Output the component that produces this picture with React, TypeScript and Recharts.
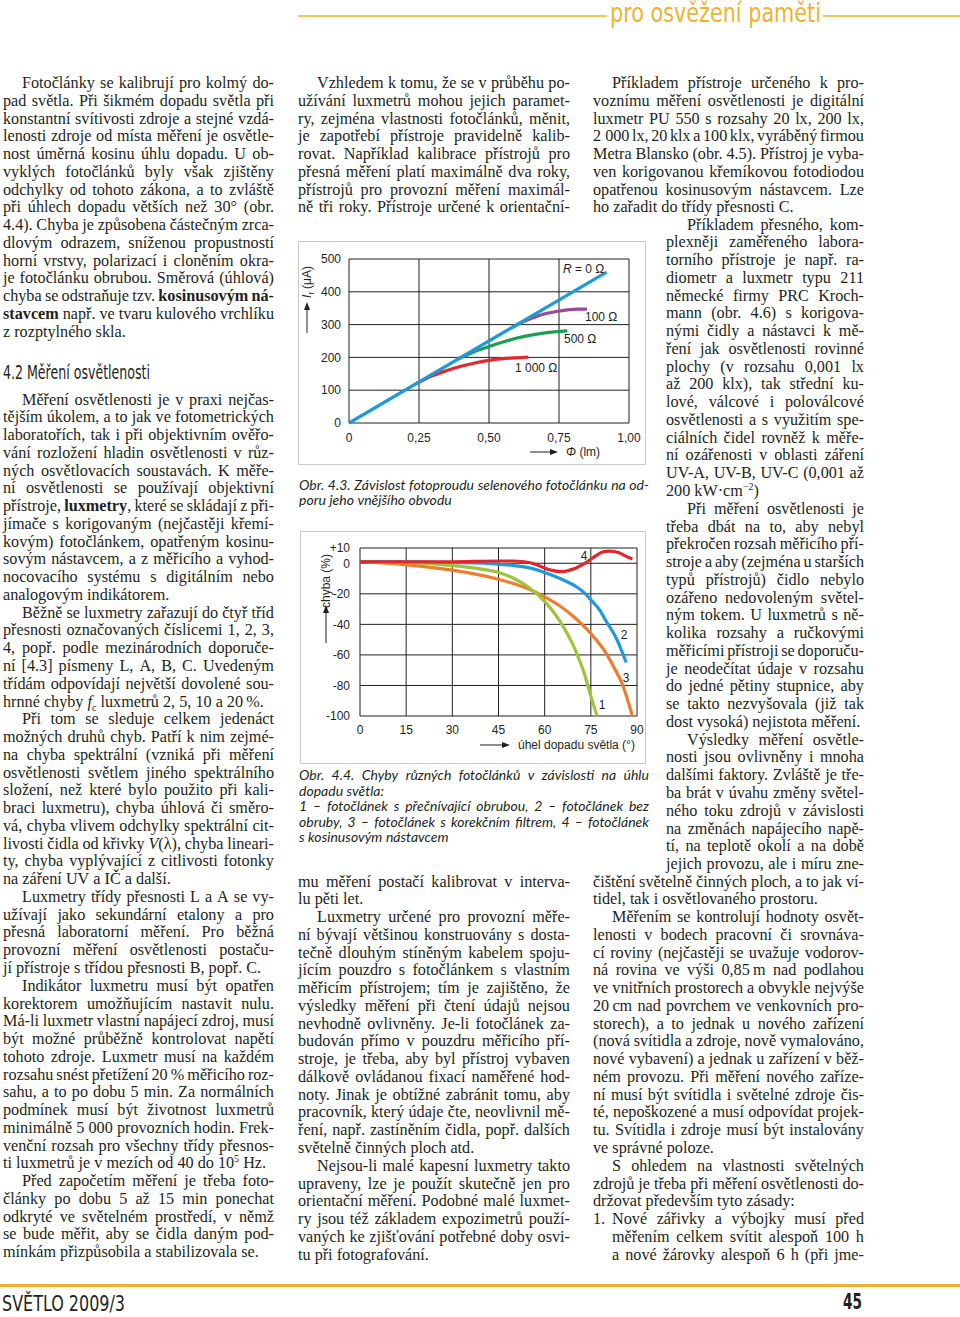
import React from "react";
import { LineChart, Line, XAxis, YAxis, CartesianGrid } from "recharts";

const INK = "#231f20";
const GOLD = "#efb22e";
const SERIF = '"Liberation Serif", "Times New Roman", serif';
const SANS = '"Liberation Sans", Arial, sans-serif';
const NARROW = '"Liberation Sans Narrow", "DejaVu Sans Condensed", "Liberation Sans", sans-serif';
const CAPTION = 'Lato, "Open Sans", sans-serif';
const LH = 17.78;

// Obr. 4.3 – fotoproud selenového fotočlánku
const FLUX_TICKS = [0, 0.25, 0.5, 0.75, 1];
const CURRENT_TICKS = [0, 100, 200, 300, 400, 500];
const R0_FLUX = [0, 0.92];
const R0_CURRENT = [0, 460];
const R100_FLUX = [0.58, 0.62, 0.66, 0.7, 0.74, 0.78, 0.82, 0.85];
const R100_CURRENT = [290, 308, 322, 333, 340, 345, 347, 347];
const R500_FLUX = [0.39, 0.45, 0.5, 0.55, 0.6, 0.65, 0.7, 0.78];
const R500_CURRENT = [195, 218, 233, 247, 259, 268, 275, 281];
const R1000_FLUX = [0.24, 0.3, 0.35, 0.4, 0.45, 0.5, 0.55, 0.6, 0.64];
const R1000_CURRENT = [120, 145, 160, 173, 183, 191, 196, 199, 201];

// Obr. 4.4 – chyby fotočlánků podle úhlu dopadu
const ANGLE_TICKS = [0, 15, 30, 45, 60, 75, 90];
const ERROR_TICKS = [-100, -80, -60, -40, -20, 0, 10];
const CELL1_ANGLE = [0, 15, 30, 40, 45, 50, 55, 60, 65, 70, 73, 75, 77];
const CELL1_ERROR = [1, 0.5, -1.5, -4, -6, -10, -16, -25, -38, -57, -73, -87, -100];
const CELL2_ANGLE = [0, 15, 30, 45, 50, 55, 60, 65, 70, 73, 75, 78, 80, 83, 86.5];
const CELL2_ERROR = [1, 1, 0.5, -0.5, -1.5, -3, -6, -10, -15, -19.5, -24, -31, -38, -48, -65];
const CELL3_ANGLE = [0, 15, 30, 45, 55, 60, 65, 70, 75, 80, 83, 85, 88.5];
const CELL3_ERROR = [1, -1, -4.5, -10.5, -17, -22, -28, -36, -46, -59, -70, -78, -100];
const CELL4_ANGLE = [0, 15, 30, 45, 50, 55, 58, 62, 65.5, 69, 73, 76, 79, 81, 84, 86, 88.5];
const CELL4_ERROR = [1, 1, 1, 1.5, 1.5, 0.5, -1.5, -4.5, -5.5, -4, 0, 4, 7.5, 8, 7, 5, 2.8];

const pts = (xs: number[], ys: number[]) => xs.map((x, i) => ({ x, y: ys[i] }));

// body text: ">" = first line of paragraph, "|" = last line
const COL1_TOP = [
  ">Fotočlánky se kalibrují pro kolmý do-",
  "pad světla. Při šikmém dopadu světla při",
  "konstantní svítivosti zdroje a stejné vzdá-",
  "lenosti zdroje od místa měření je osvětle-",
  "nost úměrná kosinu úhlu dopadu. U ob-",
  "vyklých fotočlánků byly však zjištěny",
  "odchylky od tohoto zákona, a to zvláště",
  "při úhlech dopadu větších než 30° (obr.",
  "4.4). Chyba je způsobena částečným zrca-",
  "dlovým odrazem, sníženou propustností",
  "horní vrstvy, polarizací i cloněním okra-",
  "je fotočlánku obrubou. Směrová (úhlová)",
  "chyba se odstraňuje tzv. *kosinusovým* *ná-*",
  "*stavcem* např. ve tvaru kulového vrchlíku",
  "z rozptylného skla.|",
];

const COL1_BOTTOM = [
  ">Měření osvětlenosti je v praxi nejčas-",
  "tějším úkolem, a to jak ve fotometrických",
  "laboratořích, tak i při objektivním ověřo-",
  "vání rozložení hladin osvětlenosti v růz-",
  "ných osvětlovacích soustavách. K měře-",
  "ní osvětlenosti se používají objektivní",
  "přístroje, *luxmetry*, které se skládají z při-",
  "jímače s korigovaným (nejčastěji křemí-",
  "kovým) fotočlánkem, opatřeným kosinu-",
  "sovým nástavcem, a z měřicího a vyhod-",
  "nocovacího systému s digitálním nebo",
  "analogovým indikátorem.|",
  ">Běžně se luxmetry zařazují do čtyř tříd",
  "přesnosti označovaných číslicemi 1, 2, 3,",
  "4, popř. podle mezinárodních doporuče-",
  "ní [4.3] písmeny L, A, B, C. Uvedeným",
  "třídám odpovídají největší dovolené sou-",
  "hrnné chyby _f_~c~ luxmetrů 2, 5, 10 a 20\u2009%.|",
  ">Při tom se sleduje celkem jedenáct",
  "možných druhů chyb. Patří k nim zejmé-",
  "na chyba spektrální (vzniká při měření",
  "osvětlenosti světlem jiného spektrálního",
  "složení, než které bylo použito při kali-",
  "braci luxmetru), chyba úhlová či směro-",
  "vá, chyba vlivem odchylky spektrální cit-",
  "livosti čidla od křivky _V_(λ), chyba lineari-",
  "ty, chyba vyplývající z citlivosti fotonky",
  "na záření UV a IČ a další.|",
  ">Luxmetry třídy přesnosti L a A se vy-",
  "užívají jako sekundární etalony a pro",
  "přesná laboratorní měření. Pro běžná",
  "provozní měření osvětlenosti postaču-",
  "jí přístroje s třídou přesnosti B, popř. C.|",
  ">Indikátor luxmetru musí být opatřen",
  "korektorem umožňujícím nastavit nulu.",
  "Má-li luxmetr vlastní napájecí zdroj, musí",
  "být možné průběžně kontrolovat napětí",
  "tohoto zdroje. Luxmetr musí na každém",
  "rozsahu snést přetížení 20\u2009% měřicího roz-",
  "sahu, a to po dobu 5 min. Za normálních",
  "podmínek musí být životnost luxmetrů",
  "minimálně 5\u00a0000 provozních hodin. Frek-",
  "venční rozsah pro všechny třídy přesnos-",
  "ti luxmetrů je v mezích od 40 do 10^5^ Hz.|",
  ">Před započetím měření je třeba foto-",
  "články po dobu 5 až 15 min ponechat",
  "odkryté ve světelném prostředí, v němž",
  "se bude měřit, aby se čidla daným pod-",
  "mínkám přizpůsobila a stabilizovala se.|",
];

const COL2_TOP = [
  ">Vzhledem k tomu, že se v průběhu po-",
  "užívání luxmetrů mohou jejich paramet-",
  "ry, zejména vlastnosti fotočlánků, měnit,",
  "je zapotřebí přístroje pravidelně kalib-",
  "rovat. Například kalibrace přístrojů pro",
  "přesná měření platí maximálně dva roky,",
  "přístrojů pro provozní měření maximál-",
  "ně tři roky. Přístroje určené k orientační-",
];

const COL2_BOTTOM = [
  "mu měření postačí kalibrovat v interva-",
  "lu pěti let.|",
  ">Luxmetry určené pro provozní měře-",
  "ní bývají většinou konstruovány s dosta-",
  "tečně dlouhým stíněným kabelem spoju-",
  "jícím pouzdro s fotočlánkem s vlastním",
  "měřicím přístrojem; tím je zajištěno, že",
  "výsledky měření při čtení údajů nejsou",
  "nevhodně ovlivněny. Je-li fotočlánek za-",
  "budován přímo v pouzdru měřicího pří-",
  "stroje, je třeba, aby byl přístroj vybaven",
  "dálkově ovládanou fixací naměřené hod-",
  "noty. Jinak je obtížné zabránit tomu, aby",
  "pracovník, který údaje čte, neovlivnil mě-",
  "ření, např. zastíněním čidla, popř. dalších",
  "světelně činných ploch atd.|",
  ">Nejsou-li malé kapesní luxmetry takto",
  "upraveny, lze je použít skutečně jen pro",
  "orientační měření. Podobné malé luxmet-",
  "ry jsou též základem expozimetrů použí-",
  "vaných ke zjišťování potřebné doby osvi-",
  "tu při fotografování.|",
];

const COL3_TOP = [
  ">Příkladem přístroje určeného k pro-",
  "voznímu měření osvětlenosti je digitální",
  "luxmetr PU 550 s rozsahy 20 lx, 200 lx,",
  "2\u00a0000 lx, 20 klx a 100 klx, vyráběný firmou",
  "Metra Blansko (obr. 4.5). Přístroj je vyba-",
  "ven korigovanou křemíkovou fotodiodou",
  "opatřenou kosinusovým nástavcem. Lze",
  "ho zařadit do třídy přesnosti C.|",
];

const COL3_NARROW = [
  ">Příkladem přesného, kom-",
  "plexněji zaměřeného labora-",
  "torního přístroje je např. ra-",
  "diometr a luxmetr typu 211",
  "německé firmy PRC Kroch-",
  "mann (obr. 4.6) s korigova-",
  "nými čidly a nástavci k mě-",
  "ření jak osvětlenosti rovinné",
  "plochy (v rozsahu 0,001 lx",
  "až 200 klx), tak střední ku-",
  "lové, válcové i poloválcové",
  "osvětlenosti a s využitím spe-",
  "ciálních čidel rovněž k měře-",
  "ní ozářenosti v oblasti záření",
  "UV-A, UV-B, UV-C (0,001 až",
  "200 kW·cm^−2^)|",
  ">Při měření osvětlenosti je",
  "třeba dbát na to, aby nebyl",
  "překročen rozsah měřicího pří-",
  "stroje a aby (zejména u starších",
  "typů přístrojů) čidlo nebylo",
  "ozářeno nedovoleným světel-",
  "ným tokem. U luxmetrů s ně-",
  "kolika rozsahy a ručkovými",
  "měřicími přístroji se doporuču-",
  "je neodečítat údaje v rozsahu",
  "do jedné pětiny stupnice, aby",
  "se takto nezvyšovala (již tak",
  "dost vysoká) nejistota měření.|",
  ">Výsledky měření osvětle-",
  "nosti jsou ovlivněny i mnoha",
  "dalšími faktory. Zvláště je tře-",
  "ba brát v úvahu změny světel-",
  "ného toku zdrojů v závislosti",
  "na změnách napájecího napě-",
  "tí, na teplotě okolí a na době",
  "jejich provozu, ale i míru zne-",
];

const COL3_BOTTOM = [
  "čištění světelně činných ploch, a to jak ví-",
  "tidel, tak i osvětlovaného prostoru.|",
  ">Měřením se kontrolují hodnoty osvět-",
  "lenosti v bodech pracovní či srovnáva-",
  "cí roviny (nejčastěji se uvažuje vodorov-",
  "ná rovina ve výši 0,85\u2009m nad podlahou",
  "ve vnitřních prostorech a obvykle nejvýše",
  "20\u2009cm nad povrchem ve venkovních pro-",
  "storech), a to jednak u nového zařízení",
  "(nová svítidla a zdroje, nově vymalováno,",
  "nové vybavení) a jednak u zařízení v běž-",
  "ném provozu. Při měření nového zaříze-",
  "ní musí být svítidla i světelné zdroje čis-",
  "té, nepoškozené a musí odpovídat projek-",
  "tu. Svítidla i zdroje musí být instalovány",
  "ve správné poloze.|",
  ">S ohledem na vlastnosti světelných",
  "zdrojů je třeba při měření osvětlenosti do-",
  "držovat především tyto zásady:|",
];

const COL3_LIST = [
  "Nové zářivky a výbojky musí před",
  "měřením celkem svítit alespoň 100 h",
  "a nové žárovky alespoň 6 h (při jme-",
];

const CAPTION_43 = [
  "Obr. 4.3. Závislost fotoproudu selenového fotočlánku na od-",
  "poru jeho vnějšího obvodu|",
];

const CAPTION_44 = [
  "Obr. 4.4. Chyby různých fotočlánků v závislosti na úhlu",
  "dopadu světla:|",
  "1 – fotočlánek s přečnívající obrubou, 2 – fotočlánek bez",
  "obruby, 3 – fotočlánek s korekčním filtrem, 4 – fotočlánek",
  "s kosinusovým nástavcem|",
];

function inline(t: string) {
  const parts = t.split(/(\*[^*]+\*|_[^_]+_|\^[^^]+\^|~[^~]+~)/).filter(Boolean);
  return parts.map((p, k) => {
    const inner = p.slice(1, -1);
    if (p.length > 2 && p[0] === "*" && p.endsWith("*")) return <b key={k}>{inner}</b>;
    if (p.length > 2 && p[0] === "_" && p.endsWith("_")) return <i key={k}>{inner}</i>;
    if (p.length > 2 && p[0] === "^" && p.endsWith("^"))
      return <sup key={k} style={{ fontSize: "0.62em", lineHeight: 0 }}>{inner}</sup>;
    if (p.length > 2 && p[0] === "~" && p.endsWith("~"))
      return <sub key={k} style={{ fontSize: "0.62em", lineHeight: 0 }}>{inner}</sub>;
    return <React.Fragment key={k}>{p}</React.Fragment>;
  });
}

function TextBlock({ x, y, w, lines, lh = LH, indent = 19, font = SERIF, size = 16.2, italic = false }: any) {
  return (
    <div style={{ position: "absolute", left: x, top: y, width: w, fontFamily: font, fontSize: size, lineHeight: `${lh}px`, color: INK, fontStyle: italic ? "italic" : "normal" }}>
      {lines.map((raw: string, i: number) => {
        let s = raw;
        const first = s.startsWith(">");
        if (first) s = s.slice(1);
        const last = s.endsWith("|");
        if (last) s = s.slice(0, -1);
        const words = s.split(" ");
        return (
          <div
            key={i}
            style={{
              height: lh,
              display: "flex",
              alignItems: "baseline",
              justifyContent: last ? "flex-start" : "space-between",
              columnGap: last ? "0.25em" : 0,
              paddingLeft: first ? indent : 0,
              whiteSpace: "nowrap",
            }}
          >
            {words.map((wd, j) => (
              <span key={j}>{inline(wd)}</span>
            ))}
          </div>
        );
      })}
    </div>
  );
}

const fmtFlux = (v: number) => (v === 0 ? "0" : v.toFixed(2).replace(".", ","));
const fmtError = (v: number) => (v > 0 ? `+${v}` : `${v}`);
const tickStyle = { fill: INK, fontSize: 12, fontFamily: SANS };

function Arrow({ x1, y1, x2, y2 }: any) {
  const a = Math.atan2(y2 - y1, x2 - x1);
  const hl = 8;
  const hw = 3;
  const bx = x2 - hl * Math.cos(a);
  const by = y2 - hl * Math.sin(a);
  const px = -Math.sin(a) * hw;
  const py = Math.cos(a) * hw;
  return (
    <g>
      <line x1={x1} y1={y1} x2={bx} y2={by} stroke={INK} strokeWidth={1} />
      <polygon points={`${x2},${y2} ${bx + px},${by + py} ${bx - px},${by - py}`} fill={INK} />
    </g>
  );
}

function PhotocurrentChart() {
  return (
    <div style={{ position: "absolute", left: 298, top: 241 }}>
      <LineChart width={348} height={224} margin={{ top: 18, right: 17, left: 0, bottom: 0 }}>
        <CartesianGrid stroke={INK} strokeWidth={1} />
        <XAxis
          type="number"
          dataKey="x"
          domain={[0, 1]}
          ticks={FLUX_TICKS}
          tickFormatter={fmtFlux}
          axisLine={false}
          tickLine={false}
          tickSize={0}
          tickMargin={10}
          height={42}
          tick={tickStyle}
          interval={0}
        />
        <YAxis
          type="number"
          dataKey="y"
          domain={[0, 500]}
          ticks={CURRENT_TICKS}
          axisLine={false}
          tickLine={false}
          tickSize={0}
          tickMargin={8}
          width={51}
          tick={tickStyle}
          interval={0}
        />
        <Line data={pts(R1000_FLUX, R1000_CURRENT)} dataKey="y" type="monotone" stroke="#e5262a" strokeWidth={3.2} dot={false} isAnimationActive={false} />
        <Line data={pts(R500_FLUX, R500_CURRENT)} dataKey="y" type="monotone" stroke="#1aa050" strokeWidth={3.2} dot={false} isAnimationActive={false} />
        <Line data={pts(R100_FLUX, R100_CURRENT)} dataKey="y" type="monotone" stroke="#9b4a97" strokeWidth={3.2} dot={false} isAnimationActive={false} />
        <Line data={pts(R0_FLUX, R0_CURRENT)} dataKey="y" type="linear" stroke="#1e9ad6" strokeWidth={3.2} dot={false} isAnimationActive={false} />
      </LineChart>
    </div>
  );
}

function AngleErrorChart() {
  return (
    <div style={{ position: "absolute", left: 300, top: 531 }}>
      <LineChart width={346} height={233} margin={{ top: 17, right: 9, left: 0, bottom: 0 }}>
        <CartesianGrid stroke={INK} strokeWidth={1} />
        <XAxis
          type="number"
          dataKey="x"
          domain={[0, 90]}
          ticks={ANGLE_TICKS}
          axisLine={false}
          tickLine={false}
          tickSize={0}
          tickMargin={9}
          height={48}
          tick={tickStyle}
          interval={0}
        />
        <YAxis
          type="number"
          dataKey="y"
          domain={[-100, 10]}
          ticks={ERROR_TICKS}
          tickFormatter={fmtError}
          axisLine={false}
          tickLine={false}
          tickSize={0}
          tickMargin={10}
          width={60}
          tick={tickStyle}
          interval={0}
        />
        <Line data={pts(CELL3_ANGLE, CELL3_ERROR)} dataKey="y" type="monotone" stroke="#ef7d2c" strokeWidth={3.2} dot={false} isAnimationActive={false} />
        <Line data={pts(CELL1_ANGLE, CELL1_ERROR)} dataKey="y" type="monotone" stroke="#9cc43c" strokeWidth={3.2} dot={false} isAnimationActive={false} />
        <Line data={pts(CELL2_ANGLE, CELL2_ERROR)} dataKey="y" type="monotone" stroke="#1e9ad6" strokeWidth={3.2} dot={false} isAnimationActive={false} />
        <Line data={pts(CELL4_ANGLE, CELL4_ERROR)} dataKey="y" type="monotone" stroke="#e2262b" strokeWidth={3.2} dot={false} isAnimationActive={false} />
      </LineChart>
    </div>
  );
}

const frame = (left: number, top: number, width: number, height: number) => (
  <div style={{ position: "absolute", left, top, width, height, border: "1px solid #c9c9c9", boxSizing: "border-box" }} />
);

export default function App() {
  const lbl = { fontFamily: SANS, fontSize: 12, fill: INK };
  return (
    <div style={{ position: "absolute", left: 0, top: 0, width: 960, height: 1317, background: "#fff", overflow: "hidden" }}>
      <TextBlock x={3} y={75} w={271} lines={COL1_TOP} />
      <TextBlock x={3} y={391.5} w={271} lines={COL1_BOTTOM} />
      <TextBlock x={298} y={75} w={272} lines={COL2_TOP} />
      <TextBlock x={298} y={873.5} w={272} lines={COL2_BOTTOM} />
      <TextBlock x={593} y={75} w={271} lines={COL3_TOP} />
      <TextBlock x={666} y={216.5} w={198} lines={COL3_NARROW} indent={21} />
      <TextBlock x={593} y={873.5} w={271} lines={COL3_BOTTOM} />
      <TextBlock x={612} y={873.5 + 19 * LH} w={252} lines={COL3_LIST} />
      <div style={{ position: "absolute", left: 593, top: 873.5 + 19 * LH, fontFamily: SERIF, fontSize: 16.2, lineHeight: `${LH}px`, color: INK }}>1.</div>

      <TextBlock x={299} y={477} w={350} lines={CAPTION_43} lh={15.4} font={CAPTION} size={14} italic />
      <TextBlock x={299} y={767} w={350} lines={CAPTION_44} lh={15.5} font={CAPTION} size={14} italic />

      {frame(298, 241, 348, 224)}
      {frame(300, 531, 346, 233)}
      <PhotocurrentChart />
      <AngleErrorChart />

      <svg width={960} height={1317} style={{ position: "absolute", left: 0, top: 0, pointerEvents: "none" }}>
        {/* header */}
        <line x1={298} y1={16} x2={607} y2={16} stroke={GOLD} strokeWidth={1.5} />
        <line x1={823} y1={16} x2={960} y2={16} stroke={GOLD} strokeWidth={1.5} />
        <text x={610} y={22} fontFamily={NARROW} fontSize={27} fill={GOLD} textLength={211} lengthAdjust="spacingAndGlyphs">pro osvěžení paměti</text>

        {/* section heading */}
        <text x={3} y={379} fontFamily={NARROW} fontSize={19} fill={INK} textLength={147} lengthAdjust="spacingAndGlyphs">4.2 Měření osvětlenosti</text>

        {/* footer */}
        <rect x={0} y={1284} width={960} height={3} fill={GOLD} />
        <text x={2} y={1311} fontFamily={NARROW} fontSize={21} fill={INK} textLength={123} lengthAdjust="spacingAndGlyphs">SVĚTLO 2009/3</text>
        <text x={843} y={1309} fontFamily={NARROW} fontSize={22} fontWeight="bold" fill={INK} textLength={19} lengthAdjust="spacingAndGlyphs">45</text>

        {/* chart 4.3 annotations */}
        <text transform="translate(311,282) rotate(-90)" textAnchor="middle" {...lbl}>
          <tspan fontStyle="italic">I</tspan>
          <tspan fontSize={8} dy={3}>f</tspan>
          <tspan dy={-3}> (μA)</tspan>
        </text>
        <Arrow x1={307} y1={333} x2={307} y2={302} />
        <Arrow x1={530} y1={452} x2={558} y2={452} />
        <text x={566} y={456} {...lbl}>
          <tspan fontStyle="italic">Φ</tspan> (lm)
        </text>
        <text x={563} y={273} {...lbl}>
          <tspan fontStyle="italic">R</tspan> = 0 Ω
        </text>
        <text x={585} y={321} {...lbl}>100 Ω</text>
        <text x={564} y={343} {...lbl}>500 Ω</text>
        <text x={515} y={372} {...lbl}>1 000 Ω</text>

        {/* chart 4.4 annotations */}
        <text transform="translate(330,581) rotate(-90)" textAnchor="middle" {...lbl}>chyba (%)</text>
        <Arrow x1={326} y1={643} x2={326} y2={605} />
        <Arrow x1={480} y1={745} x2={510} y2={745} />
        <text x={518} y={749} {...lbl}>úhel dopadu světla (°)</text>
        <text x={584} y={560} textAnchor="middle" {...lbl}>4</text>
        <text x={624} y={639} textAnchor="middle" {...lbl}>2</text>
        <text x={626} y={682} textAnchor="middle" {...lbl}>3</text>
        <text x={602} y={709} textAnchor="middle" {...lbl}>1</text>
      </svg>
    </div>
  );
}
